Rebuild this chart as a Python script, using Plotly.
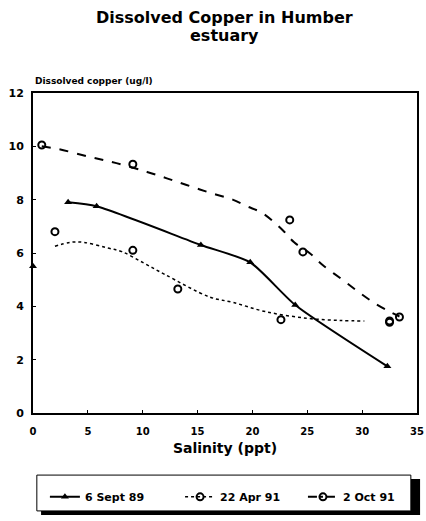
import plotly.graph_objects as go

# 6 Sept 89 (filled triangles, solid line)
sept89_sal = [0.0, 3.2, 5.8, 15.3, 19.8, 23.9, 32.3]
sept89_cu = [5.5, 7.9, 7.75, 6.3, 5.65, 4.05, 1.75]

# 22 Apr 91 (open circles) and its fitted dotted curve
apr91_sal = [2.0, 9.1, 13.2, 22.6, 32.5]
apr91_cu = [6.8, 6.1, 4.65, 3.5, 3.45]
apr91_fit_sal = [2.0, 3.4, 4.6, 6.7, 8.1, 10.2, 12.0, 16.1, 18.2, 21.2, 25.0, 28.0, 30.2]
apr91_fit_cu = [6.25, 6.4, 6.4, 6.2, 6.05, 5.6, 5.2, 4.35, 4.15, 3.8, 3.55, 3.47, 3.45]

# 2 Oct 91 (open circles) and its fitted dashed curve
oct91_sal = [0.8, 9.1, 23.4, 24.6, 32.5, 33.4]
oct91_cu = [10.05, 9.33, 7.24, 6.04, 3.4, 3.6]
oct91_fit_sal = [0.8, 2.3, 5.2, 7.6, 10.4, 12.2, 14.0, 16.2, 18.2, 19.5, 20.9, 22.9,
                 23.8, 25.2, 26.4, 28.2, 29.8, 31.2, 32.5, 33.4]
oct91_fit_cu = [10.0, 9.9, 9.6, 9.37, 9.04, 8.8, 8.55, 8.25, 8.0, 7.75, 7.5, 6.8,
                6.4, 6.0, 5.55, 5.0, 4.5, 4.1, 3.8, 3.62]

legend_names = ["6 Sept 89", "22 Apr 91", "2 Oct 91"]
title_lines = ["Dissolved Copper in Humber", "estuary"]
x_ticks = [0, 5, 10, 15, 20, 25, 30, 35]
y_ticks = [0, 2, 4, 6, 8, 10, 12]

FONT = "DejaVu Sans"
fig = go.Figure()

# Sept 89 line through points (from 2nd point onward)
fig.add_trace(go.Scatter(
    x=sept89_sal[1:], y=sept89_cu[1:], mode="lines+markers",
    line=dict(color="black", width=2, shape="spline", smoothing=0.6),
    marker=dict(symbol="triangle-up", size=7, color="black"),
    name=legend_names[0], showlegend=True, legend="legend"))
fig.add_trace(go.Scatter(
    x=sept89_sal[:1], y=sept89_cu[:1], mode="markers",
    marker=dict(symbol="triangle-up", size=7, color="black"),
    showlegend=False, cliponaxis=False))

# Apr 91
fig.add_trace(go.Scatter(
    x=apr91_fit_sal, y=apr91_fit_cu, mode="lines",
    line=dict(color="black", width=1.5, dash="dot", shape="spline"),
    showlegend=False))
fig.add_trace(go.Scatter(
    x=apr91_sal, y=apr91_cu, mode="markers",
    marker=dict(symbol="circle-open", size=7, color="black", line=dict(width=2)),
    showlegend=False, cliponaxis=False))
fig.add_trace(go.Scatter(
    x=[None], y=[None], mode="lines+markers", name=legend_names[1], legend="legend2",
    line=dict(color="black", width=1.5, dash="dot"),
    marker=dict(symbol="circle-open", size=7, color="black", line=dict(width=2))))

# Oct 91
fig.add_trace(go.Scatter(
    x=oct91_fit_sal, y=oct91_fit_cu, mode="lines",
    line=dict(color="black", width=2, dash="dash", shape="spline"),
    showlegend=False))
fig.add_trace(go.Scatter(
    x=oct91_sal, y=oct91_cu, mode="markers",
    marker=dict(symbol="circle-open", size=7, color="black", line=dict(width=2)),
    showlegend=False, cliponaxis=False))
fig.add_trace(go.Scatter(
    x=[None], y=[None], mode="lines+markers", name=legend_names[2], legend="legend3",
    line=dict(color="black", width=2, dash="dashdot"),
    marker=dict(symbol="circle-open", size=7, color="black", line=dict(width=2))))

axis_common = dict(showgrid=False, zeroline=False, showline=True, linecolor="black",
                   linewidth=2, mirror=True, ticks="inside", ticklen=3, tickwidth=1,
                   tickcolor="black", automargin=False)

legend_common = dict(orientation="h", xanchor="left", y=-0.262, yanchor="middle",
                     bgcolor="rgba(0,0,0,0)", borderwidth=0, itemwidth=30,
                     font=dict(family=FONT, size=11, color="black", weight="bold"))

fig.update_layout(
    width=426, height=521,
    margin=dict(l=33, r=9, t=93, b=108, autoexpand=False),
    paper_bgcolor="white", plot_bgcolor="white",
    font=dict(family=FONT, color="black"),
    xaxis=dict(range=[0, 35], tickvals=x_ticks, ticktext=[str(v) for v in x_ticks],
               ticklabelstandoff=8,
               tickfont=dict(family=FONT, size=10, color="black", weight="bold"),
               title=dict(text="<b>Salinity (ppt)</b>", standoff=7,
                          font=dict(family=FONT, size=14, color="black")),
               **axis_common),
    yaxis=dict(range=[0, 12], tickvals=y_ticks, ticktext=[str(v) for v in y_ticks],
               ticklabelstandoff=5,
               tickfont=dict(family=FONT, size=11, color="black", weight="bold"),
               **axis_common),
    legend=dict(x=0.031, **legend_common),
    legend2=dict(x=0.383, **legend_common),
    legend3=dict(x=0.703, **legend_common),
    annotations=[
        dict(text="<b>" + title_lines[0] + "</b>", xref="paper", yref="paper",
             x=0.499, y=1, xanchor="center", yanchor="middle", yshift=76,
             showarrow=False, font=dict(family=FONT, size=16, color="black")),
        dict(text="<b>" + title_lines[1] + "</b>", xref="paper", yref="paper",
             x=0.499, y=1, xanchor="center", yanchor="middle", yshift=58,
             showarrow=False, font=dict(family=FONT, size=16, color="black")),
        dict(text="<b>Dissolved copper (ug/l)</b>", xref="paper", yref="paper",
             x=0, y=1, xanchor="left", yanchor="middle", yshift=12,
             showarrow=False, font=dict(family=FONT, size=9, color="black"))],
    shapes=[
        dict(type="rect", xref="paper", yref="paper", x0=0.021, x1=1.008, y0=-0.319, y1=-0.206,
             fillcolor="black", line=dict(width=0), layer="below"),
        dict(type="rect", xref="paper", yref="paper", x0=0.010, x1=0.984, y0=-0.306, y1=-0.194,
             fillcolor="white", line=dict(color="black", width=1), layer="below"),
    ],
)

fig.write_html("out.html")
